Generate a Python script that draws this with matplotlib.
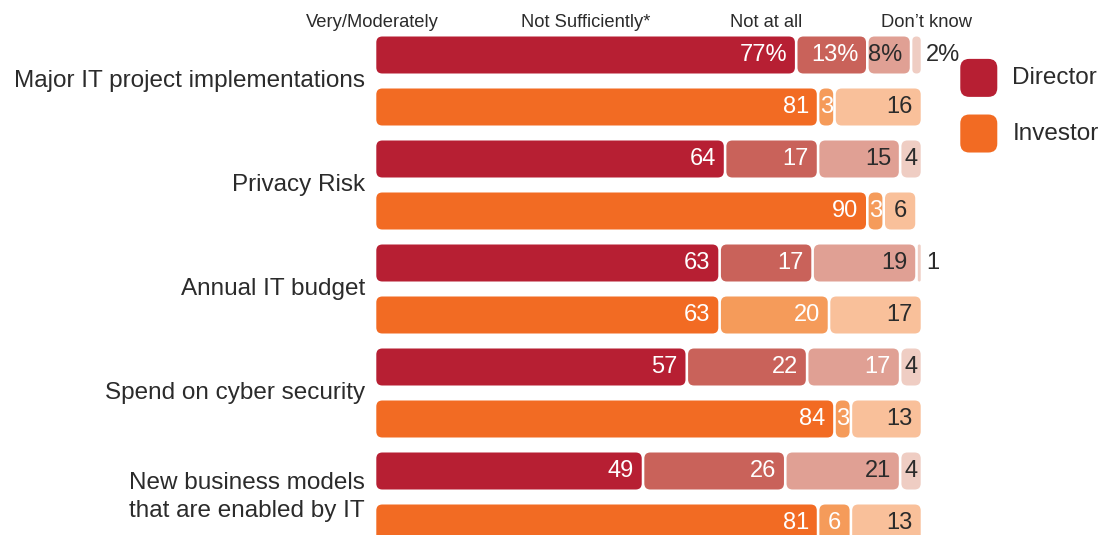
import matplotlib.pyplot as plt
from matplotlib.patches import FancyBboxPatch

plt.rcParams['font.family'] = ['Liberation Sans', 'DejaVu Sans']

categories = ['Major IT project implementations', 'Privacy Risk',
              'Annual IT budget', 'Spend on cyber security',
              'New business models\nthat are enabled by IT']
columns = ['Very/Moderately', 'Not Sufficiently*', 'Not at all', 'Don\u2019t know']

# Director: very/moderately, not sufficiently, not at all, don't know
director = [[77, 13, 8, 2],
            [64, 17, 15, 4],
            [63, 17, 19, 1],
            [57, 22, 17, 4],
            [49, 26, 21, 4]]
# Investor: very/moderately, not sufficiently, not at all
investor = [[81, 3, 16],
            [90, 3, 6],
            [63, 20, 17],
            [84, 3, 13],
            [81, 6, 13]]

dir_colors = ['#B71F33', '#C9625A', '#E0A094', '#EFCDC3']
inv_colors = ['#F26B23', '#F59B5A', '#F9C09A']
dark = '#2b2b2b'
dir_text = ['white', 'white', dark, dark]
inv_text = ['white', 'white', dark]

W, H = 1114, 535
fig = plt.figure(figsize=(W / 100, H / 100), dpi=100)
# axes: x 0..100 spans the bar width, one y unit per bar row
ax = fig.add_axes([375 / W, 0, 547 / W, 1])
ax.set_xlim(0, 100)
ax.set_ylim((H - 55) / 52, -55 / 52)
ax.axis('off')

ux = 100 / 547  # x units per pixel
uy = 1 / 52     # y units per pixel
aspect = uy / ux
bar_h = 37 * uy
gap = 1.3 * ux
rad = 6 * ux
fs_val = 17


def draw_bar(row, values, colors, tcolors, pct=False, spring_white=()):
    left = 0
    for j, v in enumerate(values):
        x0 = left + gap
        w = v - 2 * gap
        r = min(rad, w / 2)
        patch = FancyBboxPatch((x0, row - bar_h / 2), w, bar_h,
                               boxstyle='round,pad=0,rounding_size=%f' % r,
                               mutation_aspect=aspect, fc=colors[j], ec='none')
        ax.add_patch(patch)
        label = '%d%%' % v if pct else '%d' % v
        tc = 'white' if j in spring_white else tcolors[j]
        if v <= 2:
            ax.text(left + v + 4 * ux, row, label, ha='left', va='center',
                    fontsize=fs_val, color=dark, clip_on=False)
        elif v <= 6:
            ax.text(left + v / 2, row, label, ha='center', va='center',
                    fontsize=fs_val, color=tc)
        else:
            ax.text(left + v - 9 * ux, row, label, ha='right', va='center',
                    fontsize=fs_val, color=tc)
        left += v


for i, cat in enumerate(categories):
    r_dir = 2 * i
    r_inv = 2 * i + 1
    # the cyber security "not at all" value is printed in white
    draw_bar(r_dir, director[i], dir_colors, dir_text, pct=(i == 0),
             spring_white=(2,) if i == 3 else ())
    draw_bar(r_inv, investor[i], inv_colors, inv_text)
    ax.text(-10 * ux, (r_dir + r_inv) / 2, cat, ha='right', va='center',
            fontsize=17.5, color=dark, clip_on=False, linespacing=1.35)

# column headers
head_x = [-0.4, 38.5, 71.5, 100.8]
for hx, col in zip(head_x, columns):
    ax.text(hx, -0.63, col, ha='center', va='center', fontsize=13.2,
            color=dark, clip_on=False)

# legend
for k, (name, c) in enumerate([('Director', dir_colors[0]),
                               ('Investor', inv_colors[0])]):
    ly = 0.44 + k * 1.07
    sq = FancyBboxPatch((107.0, ly - 19 * uy), 37 * ux, 38 * uy,
                        boxstyle='round,pad=0,rounding_size=%f' % (9 * ux),
                        mutation_aspect=aspect, fc=c, ec='none', clip_on=False)
    ax.add_patch(sq)
    ax.text(116.5, ly, name, ha='left', va='center', fontsize=17.5,
            color=dark, clip_on=False)

fig.savefig('out.png', dpi=100)
